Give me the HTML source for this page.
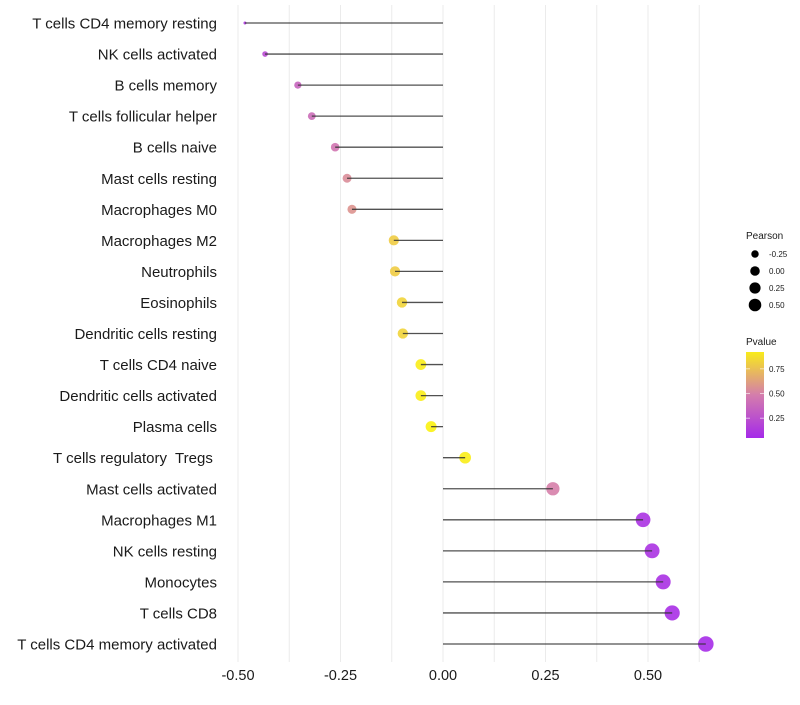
<!DOCTYPE html>
<html><head><meta charset="utf-8"><style>
body{margin:0;background:#fff;font-family:"Liberation Sans",sans-serif}
svg text{font-family:"Liberation Sans",sans-serif;white-space:pre}
</style></head><body>
<svg id="chart" width="800" height="700" viewBox="0 0 800 700"></svg>
<script>
const categories=["T cells CD4 memory resting","NK cells activated","B cells memory","T cells follicular helper","B cells naive","Mast cells resting","Macrophages M0","Macrophages M2","Neutrophils","Eosinophils","Dendritic cells resting","T cells CD4 naive","Dendritic cells activated","Plasma cells","T cells regulatory  Tregs ","Mast cells activated","Macrophages M1","NK cells resting","Monocytes","T cells CD8","T cells CD4 memory activated"];
const pearson=[-0.483,-0.434,-0.354,-0.320,-0.263,-0.234,-0.222,-0.120,-0.117,-0.100,-0.098,-0.054,-0.054,-0.029,0.054,0.268,0.488,0.510,0.537,0.559,0.641];
const pvalue=[0.12,0.22,0.36,0.40,0.45,0.55,0.58,0.80,0.80,0.83,0.83,0.93,0.93,0.95,0.93,0.50,0.10,0.10,0.09,0.08,0.06];
const xTicks=[-0.5,-0.25,0,0.25,0.5];
const xTickLabels=["-0.50","-0.25","0.00","0.25","0.50"];
const xGrid=[-0.5,-0.375,-0.25,-0.125,0,0.125,0.25,0.375,0.5,0.625];
const sizeBreaks=[-0.25,0,0.25,0.5];
const sizeLabels=["-0.25","0.00","0.25","0.50"];
const colorBreaks=[0.25,0.5,0.75];
const colorLabels=["0.25","0.50","0.75"];

const NS="http://www.w3.org/2000/svg";
const svg=document.getElementById('chart');
function mk(t,a,p){const e=document.createElementNS(NS,t);for(const k in a)e.setAttribute(k,a[k]);(p||svg).appendChild(e);return e;}
const xs=v=>443+v*410;
const ys=i=>23+i*31.05;
const rs=v=>1.5+6.3*Math.sqrt(Math.max(0,(v+0.483)/1.124));
function lerp(a,b,t){return a.map((x,i)=>Math.round(x+(b[i]-x)*t));}
function col(p){const lo=[160,32,240],mid=[214,128,170],hi=[255,255,0];
  const c=p<0.5?lerp(lo,mid,p/0.5):lerp(mid,hi,(p-0.5)/0.5);return `rgb(${c[0]},${c[1]},${c[2]})`;}

const grid=mk('g',{});
xGrid.forEach(v=>{const l=mk('line',{x1:xs(v),x2:xs(v),y1:5,y2:662,stroke:'#ebebeb','stroke-width':1},grid);
  });

categories.forEach((c,i)=>{
  const t=mk('text',{x:217,y:ys(i)+5.5,'text-anchor':'end','font-size':15,fill:'#1a1a1a'});t.textContent=c;
  
  const pt=mk('circle',{cx:xs(pearson[i]),cy:ys(i),r:rs(pearson[i]),fill:col(pvalue[i]),'fill-opacity':0.9});
  
  const s=mk('line',{x1:xs(0),x2:xs(pearson[i]),y1:ys(i),y2:ys(i),stroke:'#333','stroke-width':1.3,'stroke-opacity':0.85});
  
});
xTicks.forEach((v,i)=>{const t=mk('text',{x:xs(v),y:680,'text-anchor':'middle','font-size':14.5,fill:'#1a1a1a'});t.textContent=xTickLabels[i];
  });

const lg=mk('g',{});
const lt=mk('text',{x:746,y:239,'font-size':10,fill:'#1a1a1a'},lg);lt.textContent='Pearson';
sizeBreaks.forEach((v,i)=>{const y=254+i*17;
  const c=mk('circle',{cx:755,cy:y,r:rs(v)*0.85,fill:'#000'},lg);
  const t=mk('text',{x:769,y:y+3,'font-size':8,fill:'#1a1a1a'},lg);t.textContent=sizeLabels[i];});

const cg=mk('g',{});
const ct=mk('text',{x:746,y:345,'font-size':10,fill:'#1a1a1a'},cg);ct.textContent='Pvalue';
const defs=mk('defs',{});const gr=mk('linearGradient',{id:'pg',x1:0,y1:1,x2:0,y2:0},defs);
[[0,col(0.05)],[0.5,col(0.485)],[1,col(0.92)]].forEach(s=>mk('stop',{offset:s[0],'stop-color':s[1]},gr));
const bar=mk('rect',{x:746,y:352,width:18,height:86,fill:'url(#pg)'},cg);
const cy=p=>438-(p-0.05)/(0.92-0.05)*86;
colorBreaks.forEach((p,i)=>{mk('line',{x1:746,x2:750,y1:cy(p),y2:cy(p),stroke:'#fff','stroke-opacity':0.6},cg);mk('line',{x1:760,x2:764,y1:cy(p),y2:cy(p),stroke:'#fff','stroke-opacity':0.6},cg);
  const t=mk('text',{x:769,y:cy(p)+3,'font-size':8,fill:'#1a1a1a'},cg);t.textContent=colorLabels[i];});
</script>
</body></html>
